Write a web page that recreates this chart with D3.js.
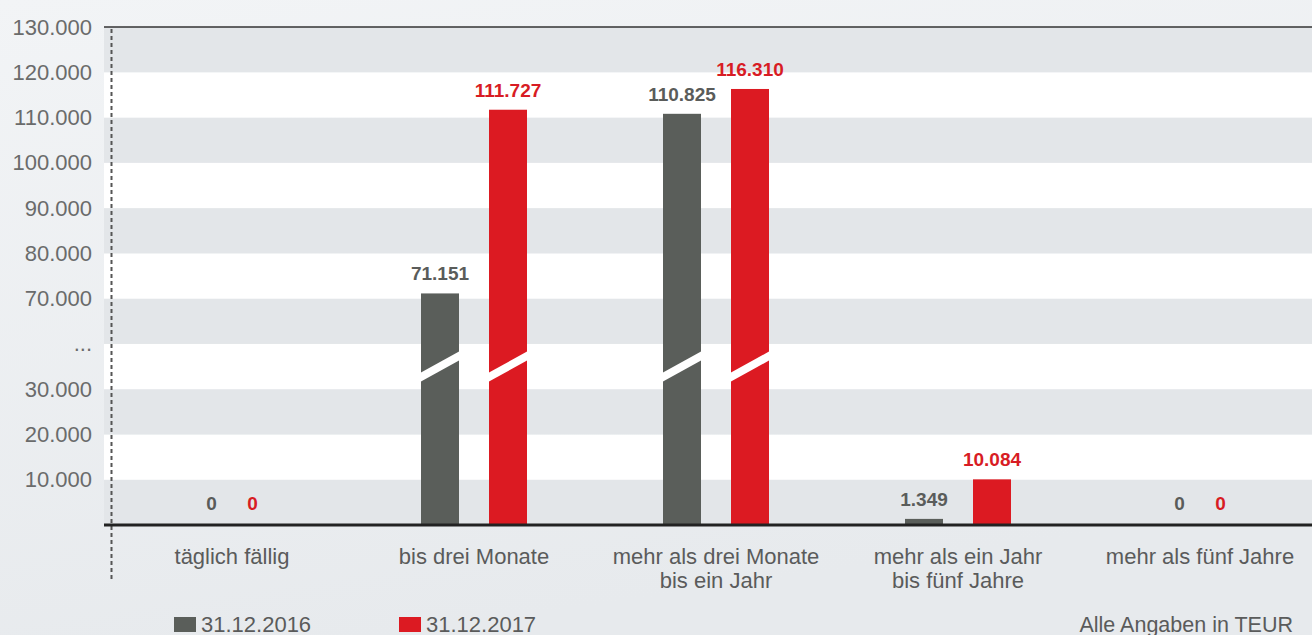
<!DOCTYPE html>
<html>
<head>
<meta charset="utf-8">
<script src="https://cdn.jsdelivr.net/npm/d3@7/dist/d3.min.js"></script>
<style>
  body { margin: 0; background: #eceff1; }
  svg { display: block; }
</style>
</head>
<body>
<div id="chart"></div>
<script>
const width = 1312;
const height = 635;
const margin = ({ top: 27, right: 0, bottom: 110, left: 104 });

// Data
const categories = [
	["täglich fällig"],
	["bis drei Monate"],
	["mehr als drei Monate", "bis ein Jahr"],
	["mehr als ein Jahr", "bis fünf Jahre"],
	["mehr als fünf Jahre"]
];
const series = ["31.12.2016", "31.12.2017"];
const values2016 = [0, 71151, 110825, 1349, 0];
const values2017 = [0, 111727, 116310, 10084, 0];
const colors = ["#5a5e5a", "#dc1a22"];
const labelColors = ["#5a5c5a", "#d81c24"];

// broken axis: 30.000 -> 70.000 squeezed into two steps, "..." sits in the middle
const tickValues = [10000, 20000, 30000, 50000, 70000, 80000, 90000, 100000, 110000, 120000, 130000];
const tickLabels = ["10.000", "20.000", "30.000", "...", "70.000", "80.000", "90.000", "100.000", "110.000", "120.000", "130.000"];

const de = d3.formatLocale({ decimal: ",", thousands: ".", grouping: [3], currency: ["", " €"] });
const fmt = de.format(",d");
const font = '"Liberation Sans", Arial, sans-serif';

const svg = d3.select('#chart')
	.append('svg')
	.attr('width', width)
	.attr('height', height);

const defs = svg.append('defs');
const grad = defs.append('linearGradient')
	.attr('id', 'bg')
	.attr('x1', 0).attr('y1', 0).attr('x2', 0.3).attr('y2', 1);
grad.append('stop').attr('offset', '0%').attr('stop-color', '#f2f4f6');
grad.append('stop').attr('offset', '100%').attr('stop-color', '#e7eaed');

svg.append('rect')
	.attr('width', width)
	.attr('height', height)
	.attr('fill', 'url(#bg)');

const y0 = 525; // baseline
const step = (y0 - margin.top) / 11;

let y = d3.scaleLinear()
	.domain([0, 30000, 70000, 130000])
	.range([y0, y0 - 3 * step, y0 - 5 * step, margin.top]);

let x = d3.scaleBand()
	.domain(d3.range(categories.length))
	.range([111, 111 + 242 * categories.length]);

let xs = d3.scaleBand()
	.domain(series)
	.range([-53, 53])
	.paddingInner(30 / 68);

// background bands
const bandEdges = [0].concat(tickValues);
svg.append('g')
	.selectAll('rect')
	.data(d3.pairs(bandEdges))
	.join('rect')
	.attr('x', margin.left)
	.attr('width', width - margin.left)
	.attr('y', d => y(d[1]))
	.attr('height', d => y(d[0]) - y(d[1]))
	.attr('fill', (d, i) => i % 2 === 0 ? '#e3e6e9' : '#ffffff');

// top line
svg.append('line')
	.attr('x1', margin.left).attr('x2', width)
	.attr('y1', y(130000)).attr('y2', y(130000))
	.attr('stroke', '#333')
	.attr('stroke-width', 1.5);

// y axis
const yAxis = g => g
	.attr('transform', `translate(92,0)`)
	.call(d3.axisLeft(y).tickValues(tickValues).tickSize(0).tickPadding(0)
		.tickFormat((d, i) => tickLabels[i]))
	.call(g => g.select('.domain').remove())
	.call(g => g.selectAll('text')
		.attr('font-family', font)
		.attr('font-size', 22)
		.attr('fill', '#6a6b6b'));

svg.append('g').call(yAxis);

// dashed vertical line
svg.append('line')
	.attr('x1', 111.5).attr('x2', 111.5)
	.attr('y1', margin.top + 2).attr('y2', 581)
	.attr('stroke', '#555')
	.attr('stroke-width', 2)
	.attr('stroke-dasharray', '4,3');

// bars
const rows = [];
categories.forEach((c, i) => {
	rows.push({ cat: i, s: 0, value: values2016[i] });
	rows.push({ cat: i, s: 1, value: values2017[i] });
});

const barX = d => x(d.cat) + x.bandwidth() / 2 + xs(series[d.s]);

svg.append('g')
	.selectAll('rect')
	.data(rows.filter(d => d.value > 0))
	.join('rect')
	.attr('x', barX)
	.attr('width', xs.bandwidth())
	.attr('y', d => y(d.value))
	.attr('height', d => y(0) - y(d.value))
	.attr('fill', d => colors[d.s]);

// break marks on bars crossing the gap
const breakY = (y(30000) + y(50000)) / 2;
svg.append('g')
	.selectAll('path')
	.data(rows.filter(d => d.value > 70000))
	.join('path')
	.attr('d', d => {
		const bx = barX(d), bw = xs.bandwidth();
		return `M${bx},${breakY + 6} L${bx + bw},${breakY - 15} L${bx + bw},${breakY - 6} L${bx},${breakY + 15} Z`;
	})
	.attr('fill', '#fff');

// baseline
svg.append('line')
	.attr('x1', margin.left).attr('x2', width)
	.attr('y1', y(0)).attr('y2', y(0))
	.attr('stroke', '#222')
	.attr('stroke-width', 3);

// value labels
svg.append('g')
	.selectAll('text')
	.data(rows)
	.join('text')
	.attr('x', d => d.value === 0
		? x(d.cat) + x.bandwidth() / 2 + (d.s === 0 ? -20.5 : 20.5)
		: barX(d) + xs.bandwidth() / 2)
	.attr('y', d => y(d.value) - (d.value === 0 ? 15 : 13))
	.attr('text-anchor', 'middle')
	.attr('font-family', font)
	.attr('font-weight', 'bold')
	.attr('font-size', 19)
	.attr('fill', d => labelColors[d.s])
	.text(d => fmt(d.value));

// category labels
const catText = svg.append('g')
	.selectAll('text')
	.data(categories)
	.join('text')
	.attr('x', (d, i) => x(i) + x.bandwidth() / 2)
	.attr('y', 564)
	.attr('text-anchor', 'middle')
	.attr('font-family', font)
	.attr('font-size', 22)
	.attr('fill', '#5a5b5b');

catText.selectAll('tspan')
	.data(d => d)
	.join('tspan')
	.attr('x', function () { return d3.select(this.parentNode).attr('x'); })
	.attr('dy', (d, i) => i === 0 ? 0 : 24)
	.text(d => d);

// legend
const legend = svg.append('g')
	.selectAll('g')
	.data(series)
	.join('g')
	.attr('transform', (d, i) => `translate(${174 + i * 225},617)`);

legend.append('rect')
	.attr('width', 22)
	.attr('height', 15)
	.attr('fill', (d, i) => colors[i]);

legend.append('text')
	.attr('x', 27)
	.attr('y', 15)
	.attr('font-family', font)
	.attr('font-size', 22)
	.attr('fill', '#5a5b5b')
	.text(d => d);

svg.append('text')
	.attr('x', 1293)
	.attr('y', 632)
	.attr('text-anchor', 'end')
	.attr('font-family', font)
	.attr('font-size', 21.5)
	.attr('fill', '#5a5b5b')
	.text('Alle Angaben in TEUR');
</script>
</body>
</html>
